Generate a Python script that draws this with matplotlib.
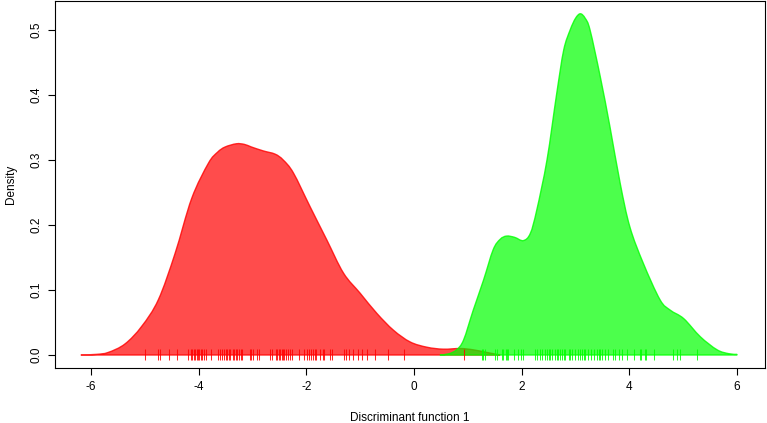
import matplotlib
matplotlib.use('Agg')
import matplotlib.pyplot as plt
from matplotlib.path import Path
from matplotlib.patches import PathPatch
import numpy as np

# density curves
red_x = [-6.19, -5.9, -5.68, -5.37, -5.06, -4.75, -4.44, -4.13, -3.82, -3.65, -3.51,
         -3.30, -3.15, -3.02, -2.80, -2.58, -2.43, -2.24, -1.93, -1.62, -1.31, -1.00,
         -0.69, -0.38, -0.07, 0.24, 0.54, 0.86, 1.10, 1.35, 1.6]
red_d = [0.0, 0.001, 0.004, 0.017, 0.044, 0.085, 0.156, 0.241, 0.295, 0.312, 0.320,
         0.325, 0.324, 0.320, 0.314, 0.309, 0.300, 0.280, 0.228, 0.177, 0.126, 0.095,
         0.064, 0.038, 0.020, 0.012, 0.009, 0.010, 0.008, 0.004, 0.0]

green_x = [0.48, 0.65, 0.79, 0.92, 1.10, 1.29, 1.47, 1.60, 1.72, 1.87, 2.03, 2.16,
           2.28, 2.47, 2.65, 2.78, 2.90, 3.00, 3.09, 3.18, 3.27, 3.46, 3.64, 3.83,
           4.01, 4.26, 4.57, 4.76, 5.01, 5.32, 5.63, 5.85, 6.0]
green_d = [0.0, 0.002, 0.008, 0.023, 0.069, 0.115, 0.162, 0.178, 0.183, 0.181, 0.176,
           0.187, 0.223, 0.300, 0.402, 0.469, 0.500, 0.518, 0.525, 0.518, 0.500, 0.428,
           0.351, 0.264, 0.197, 0.141, 0.085, 0.069, 0.056, 0.028, 0.008, 0.002, 0.001]

# individual scores (rug)
red_rug = [-4.99, -4.76, -4.72, -4.56, -4.40, -4.19, -4.15, -4.12, -4.09, -4.07, -4.04,
           -4.02, -3.99, -3.96, -3.93, -3.90, -3.87, -3.78, -3.65, -3.61, -3.57, -3.53,
           -3.50, -3.47, -3.43, -3.41, -3.37, -3.35, -3.31, -3.28, -3.25, -3.22, -3.19,
           -3.04, -3.02, -2.99, -2.92, -2.88, -2.68, -2.64, -2.57, -2.54, -2.51, -2.49,
           -2.46, -2.43, -2.41, -2.38, -2.35, -2.30, -2.27, -2.14, -2.04, -1.99, -1.95,
           -1.92, -1.88, -1.84, -1.82, -1.75, -1.69, -1.67, -1.56, -1.52, -1.31, -1.26,
           -1.21, -1.13, -1.05, -0.96, -0.88, -0.72, -0.49, -0.18, 0.93]
green_rug = [1.26, 1.29, 1.32, 1.51, 1.54, 1.64, 1.66, 1.70, 1.72, 1.75, 1.86, 1.93,
             1.98, 2.03, 2.25, 2.28, 2.34, 2.37, 2.43, 2.47, 2.50, 2.53, 2.57, 2.62,
             2.65, 2.68, 2.71, 2.75, 2.78, 2.81, 2.87, 2.90, 2.93, 2.99, 3.05, 3.09,
             3.12, 3.15, 3.18, 3.24, 3.29, 3.35, 3.40, 3.43, 3.46, 3.50, 3.55, 3.61,
             3.70, 3.74, 3.80, 3.86, 3.95, 4.08, 4.19, 4.21, 4.29, 4.31, 4.45, 4.81,
             4.88, 4.94, 5.25]

x_ticks = [-6, -4, -2, 0, 2, 4, 6]
y_ticks = [0.0, 0.1, 0.2, 0.3, 0.4, 0.5]


def smooth_outline(xs, ys):
    # draw the curve through the read points as cubic bezier segments
    p = np.column_stack([xs, ys])
    verts = [p[0]]
    codes = [Path.MOVETO]
    n = len(p)
    for i in range(n - 1):
        p0 = p[max(i - 1, 0)]
        p3 = p[min(i + 2, n - 1)]
        c1 = p[i] + (p[i + 1] - p0) / 6.0
        c2 = p[i + 1] - (p3 - p[i]) / 6.0
        c1[1] = max(c1[1], 0)
        c2[1] = max(c2[1], 0)
        verts += [c1, c2, p[i + 1]]
        codes += [Path.CURVE4] * 3
    verts += [(xs[-1], 0), (xs[0], 0), (xs[0], 0)]
    codes += [Path.LINETO, Path.LINETO, Path.CLOSEPOLY]
    return Path(verts, codes)


plt.rcParams['font.family'] = ['Liberation Sans', 'DejaVu Sans']

fig = plt.figure(figsize=(7.67, 4.23), dpi=100)
ax = fig.add_axes([0.0717, 0.130, 0.9257, 0.8676])

ax.add_patch(PathPatch(smooth_outline(red_x, red_d), facecolor=(1, 0, 0, 0.7),
                       edgecolor=(1, 0, 0, 0.8), linewidth=1))
ax.add_patch(PathPatch(smooth_outline(green_x, green_d), facecolor=(0, 1, 0, 0.7),
                       edgecolor=(0, 1, 0, 0.8), linewidth=1))

ax.vlines(red_rug, -0.0077, 0.0092, color=(1, 0, 0, 0.85), linewidth=0.75)
ax.vlines(green_rug, -0.0077, 0.0092, color=(0, 1, 0, 0.85), linewidth=0.75)

ax.set_xlim(-6.67, 6.52)
ax.set_ylim(-0.02, 0.5446)
ax.set_xticks(x_ticks)
ax.set_xticklabels([str(t) for t in x_ticks])
ax.set_yticks(y_ticks)
ax.set_yticklabels(['%.1f' % t for t in y_ticks], rotation=90, va='center')
ax.tick_params(direction='out', length=5, width=0.8, labelsize=8.5, pad=4)
for s in ax.spines.values():
    s.set_linewidth(0.8)

ax.set_xlabel('Discriminant function 1', fontsize=8.5, labelpad=14)
ax.set_ylabel('Density', fontsize=8.5, labelpad=10)

fig.savefig('out.png', dpi=100)
